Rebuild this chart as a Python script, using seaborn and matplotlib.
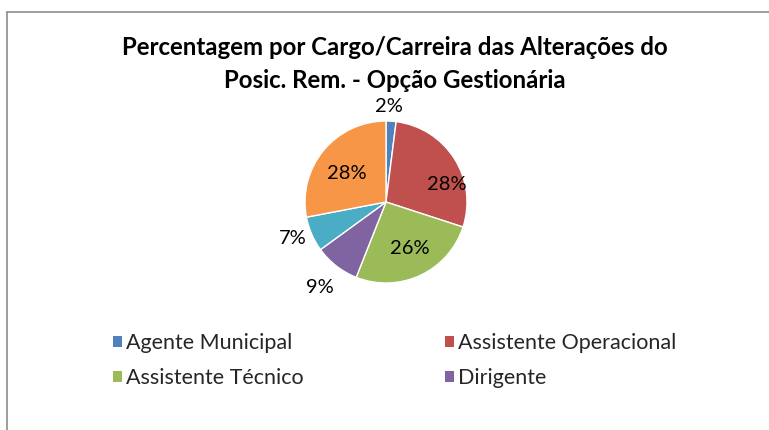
import numpy as np
import matplotlib
matplotlib.use("Agg")
import matplotlib.pyplot as plt
from matplotlib.lines import Line2D
from matplotlib.patches import Patch
import seaborn as sns

# data
categories = ["Agente Municipal", "Assistente Operacional", "Assistente Técnico",
              "Dirigente", "Encarregado Operacional", "Técnico Superior"]
values = [2, 28, 26, 9, 7, 28]
legend_shown = ["Agente Municipal", "Assistente Operacional",
                "Assistente Técnico", "Dirigente"]
title = "Percentagem por Cargo/Carreira das Alterações do\nPosic. Rem. - Opção Gestionária"

colors = ["#4F81BD", "#C0504D", "#9BBB59", "#8064A2", "#4BACC6", "#F79646"]
# where each percentage sits: fraction of radius, and angle nudge in degrees
label_dist = [1.18, 0.78, 0.64, 1.33, 1.23, 0.60]
label_nudge = [2, -16, 2, 0, -2, 3]

sns.set_theme(style="white")
plt.rcParams["font.family"] = ["Lato", "DejaVu Sans"]

W, H = 769, 430
fig = plt.figure(figsize=(W / 100, H / 100), dpi=100)

# chart frame (only left and top edges visible in the crop)
fig.add_artist(Line2D([7 / W, 7 / W], [0, 1 - 12 / H], color="#8c8c8c", lw=1.2))
fig.add_artist(Line2D([7 / W, 1], [1 - 12 / H, 1 - 12 / H], color="#8c8c8c", lw=1.2))

fig.text(395 / W, 1 - 64 / H, title, ha="center", va="center",
         fontsize=17.3, fontweight="bold", linespacing=1.5, color="black")

# pie: centre at (386, 202) px, radius 81 px
ax = fig.add_axes([(386 - 100) / W, (H - 202 - 100) / H, 200 / W, 200 / H])
wedges, _ = ax.pie(values, colors=colors, startangle=90, counterclock=False,
                   radius=0.81,
                   wedgeprops=dict(edgecolor="white", linewidth=1.0))
ax.set_xlim(-1, 1)
ax.set_ylim(-1, 1)
ax.set_aspect("equal")
ax.axis("off")

for w, v, d, n in zip(wedges, values, label_dist, label_nudge):
    mid = np.deg2rad((w.theta1 + w.theta2) / 2 + n)
    r = 0.81 * d
    ax.text(r * np.cos(mid), r * np.sin(mid), f"{v}%", ha="center", va="center",
            fontsize=14.5, color="black")

order = [0, 2, 1, 3]
handles = [Patch(facecolor=colors[categories.index(legend_shown[i])],
                 edgecolor="none", label=legend_shown[i]) for i in order]
fig.legend(handles=handles, loc="upper left",
           bbox_to_anchor=(94 / W, 1 - 314 / H), ncol=2, frameon=False,
           fontsize=15.5, handlelength=0.42, handleheight=0.42, handletextpad=0.15,
           columnspacing=6.6, labelspacing=0.68)

fig.savefig("out.png", dpi=100)
